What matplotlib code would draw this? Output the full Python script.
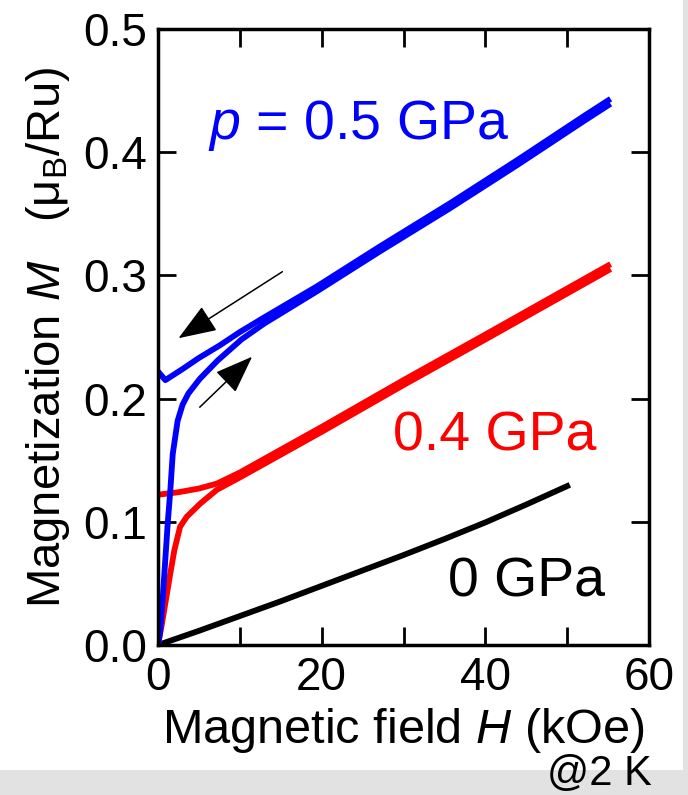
import matplotlib.pyplot as plt
from matplotlib.patches import Rectangle
from matplotlib.ticker import MultipleLocator, FuncFormatter

plt.rcParams['font.family'] = ['Liberation Sans', 'DejaVu Sans']
plt.rcParams['mathtext.fontset'] = 'custom'
plt.rcParams['mathtext.rm'] = 'Liberation Sans'
plt.rcParams['mathtext.it'] = 'Liberation Sans:italic'

# M-H curves at 2 K, field in kOe, magnetization in muB/Ru
H_black = [0, 5, 10, 15, 20, 25, 30, 35, 40, 45, 50]
M_black = [0, 0.0115, 0.0235, 0.0355, 0.048, 0.0605, 0.073, 0.086, 0.0995,
           0.114, 0.129]

H_red_up = [0, 0.5, 1.0, 1.5, 2.0, 2.7, 3.5, 5.2, 7.2, 10, 20, 30, 40, 55]
M_red_up = [0, 0.018, 0.038, 0.058, 0.077, 0.096, 0.104, 0.115, 0.126, 0.136,
            0.173, 0.211, 0.248, 0.304]
H_red_down = [55, 40, 30, 20, 10, 7.2, 5, 2.5, 0]
M_red_down = [0.308, 0.252, 0.215, 0.177, 0.140, 0.131, 0.127, 0.124, 0.122]

H_blue_up = [0, 0.25, 0.6, 0.9, 1.2, 1.5, 1.8, 2.4, 3.0, 3.7, 5.1, 7.3, 10.2,
             13, 19.4, 27, 35.8, 44, 52.2, 55]
M_blue_up = [0, 0.010, 0.040, 0.070, 0.100, 0.125, 0.155, 0.182, 0.195, 0.204,
             0.216, 0.231, 0.248, 0.261, 0.287, 0.319, 0.355, 0.390, 0.426,
             0.438]
H_blue_down = [55, 52.2, 44, 35.8, 27, 19.4, 13, 10, 7.5, 5, 3, 0.9, 0]
M_blue_down = [0.442, 0.430, 0.394, 0.359, 0.323, 0.291, 0.266, 0.254, 0.243,
               0.233, 0.224, 0.215, 0.222]

fig = plt.figure(figsize=(6.88, 7.95), dpi=100, facecolor='#e2e2e2')
# white slide panel behind the axes
fig.patches.append(Rectangle((0, 25 / 795), 683 / 688, 770 / 795,
                             transform=fig.transFigure, facecolor='white',
                             edgecolor='none', zorder=-10))

ax = fig.add_axes([158 / 688, 150 / 795, 491 / 688, 616 / 795])

lw = 4.2
ax.plot(H_black, M_black, color='black', lw=lw, solid_joinstyle='round')
for H, M in [(H_red_up, M_red_up), (H_red_down, M_red_down)]:
    ax.plot(H, M, color='#ff0000', lw=lw, solid_joinstyle='round')
for H, M in [(H_blue_up, M_blue_up), (H_blue_down, M_blue_down)]:
    ax.plot(H, M, color='#0000ff', lw=lw, solid_joinstyle='round')

# sweep direction arrows
arrow = dict(arrowstyle='-|>,head_length=2.4,head_width=0.9', lw=1.1,
             color='black', mutation_scale=10, shrinkA=0, shrinkB=0)
ax.annotate('', xy=(2.5, 0.249), xytext=(15.2, 0.303), arrowprops=arrow)
ax.annotate('', xy=(11.5, 0.234), xytext=(5.1, 0.193), arrowprops=arrow)

ax.text(6.1, 0.411, r'$p$ = 0.5 GPa', color='#0000ff', fontsize=40,
        ha='left', va='baseline')
ax.text(28.7, 0.158, '0.4 GPa', color='#ff0000', fontsize=40,
        ha='left', va='baseline')
ax.text(35.4, 0.039, '0 GPa', color='black', fontsize=40,
        ha='left', va='baseline')

ax.set_xlim(0, 60)
ax.set_ylim(0, 0.5)
ax.xaxis.set_major_locator(MultipleLocator(10))
ax.yaxis.set_major_locator(MultipleLocator(0.1))
ax.xaxis.set_major_formatter(FuncFormatter(
    lambda v, pos: f'{v:.0f}' if round(v) % 20 == 0 else ''))
ax.yaxis.set_major_formatter(FuncFormatter(lambda v, pos: f'{v:.1f}'))
ax.tick_params(direction='in', length=13, width=2, labelsize=33,
               top=True, right=True, pad=8)
for s in ax.spines.values():
    s.set_linewidth(2.5)

ax.set_xlabel(r'Magnetic field $H$ (kOe)', fontsize=35, labelpad=4)
ax.set_ylabel(r'Magnetization $M$   ($\mathrm{\mu_B}$/Ru)', fontsize=34,
              labelpad=8)

fig.text(652 / 688, 1 - 785 / 795, '@2 K', fontsize=30, ha='right',
         va='baseline')

fig.savefig('out.png', dpi=100, facecolor=fig.get_facecolor())
